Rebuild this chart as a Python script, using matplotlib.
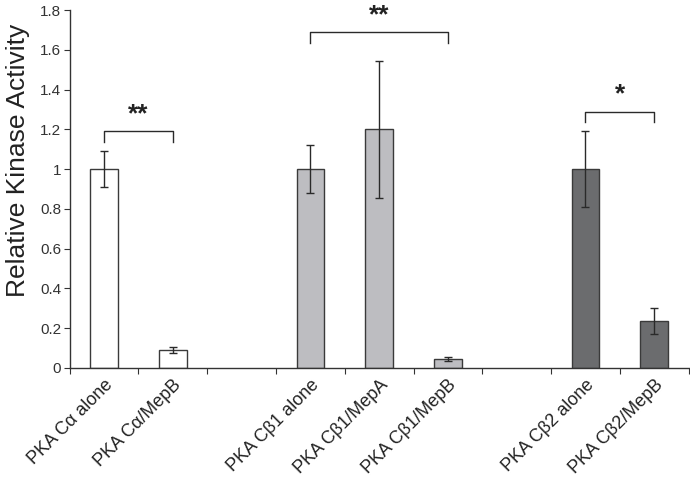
import matplotlib
matplotlib.use("Agg")
import matplotlib.pyplot as plt
import numpy as np

categories = ["PKA C\u03b1 alone", "PKA C\u03b1/MepB", "", "PKA C\u03b21 alone",
              "PKA C\u03b21/MepA", "PKA C\u03b21/MepB", "", "PKA C\u03b22 alone", "PKA C\u03b22/MepB"]
values = [1.0, 0.09, np.nan, 1.0, 1.2, 0.045, np.nan, 1.0, 0.235]
errors = [0.09, 0.015, np.nan, 0.12, 0.345, 0.01, np.nan, 0.19, 0.065]
colors = ["#ffffff", "#ffffff", "#ffffff", "#bdbdc1", "#bdbdc1", "#bdbdc1", "#ffffff", "#6b6c6e", "#6b6c6e"]
brackets = [(0, 1, 1.19, "**"), (3, 5, 1.69, "**"), (7, 8, 1.29, "*")]

plt.rcParams['font.family'] = ['Liberation Sans', 'DejaVu Sans']

fig = plt.figure(figsize=(6.9, 4.86), dpi=100)
ax = fig.add_axes([0.101, 0.243, 0.897, 0.736])

x = np.arange(len(categories))
for i, (v, e, c) in enumerate(zip(values, errors, colors)):
    if np.isnan(v):
        continue
    ax.bar(x[i], v, width=0.4, color=c, edgecolor="#3a3a3a", linewidth=1.0, zorder=2)
    ax.errorbar(x[i], v, yerr=e, fmt="none", ecolor="#2a2a2a", elinewidth=1.0,
                capsize=3, capthick=1.0, zorder=3)

for a, b, y, s in brackets:
    leg = 0.055
    ax.plot([x[a], x[a], x[b], x[b]], [y - leg, y, y, y - leg], color="#2a2a2a", lw=1.0)
    ax.text((x[a] + x[b]) / 2, y + 0.085, s, ha="center", va="center", fontsize=19,
            fontweight="bold", color="#222222")

ax.set_xlim(-0.5, len(categories) - 0.5)
ax.set_ylim(0, 1.8)
ax.set_yticks(np.arange(0, 1.81, 0.2))
ax.set_yticklabels(["0", "0.2", "0.4", "0.6", "0.8", "1", "1.2", "1.4", "1.6", "1.8"], fontsize=11, color="#333333")
ax.set_xticks(np.arange(-0.5, len(categories), 1.0))
ax.set_xticklabels([])
ax.set_xticks(x, minor=True)
ax.set_xticklabels(categories, minor=True, rotation=45, ha="right", rotation_mode="anchor",
                   fontsize=13, color="#222222")
ax.tick_params(axis="x", which="minor", length=0, pad=6)
ax.tick_params(axis="x", which="major", length=4, direction="out", color="#333333")
ax.tick_params(axis="y", length=4, direction="out", color="#333333", pad=2)
ax.set_ylabel("Relative Kinase Activity", fontsize=19, color="#222222")
ax.yaxis.set_label_coords(-0.064, 0.58)
for sp in ["top", "right"]:
    ax.spines[sp].set_visible(False)
for sp in ["left", "bottom"]:
    ax.spines[sp].set_color("#333333")
    ax.spines[sp].set_linewidth(1.0)

fig.savefig("out.png", dpi=100)
